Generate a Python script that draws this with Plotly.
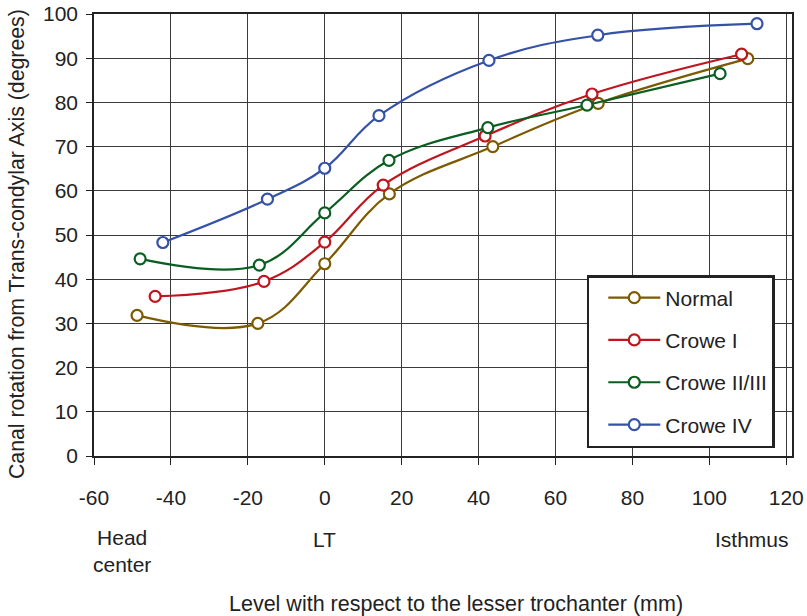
import plotly.graph_objects as go

# ---- data ----
normal_x = [-48.8, -17.4, 0, 16.8, 43.7, 71.1, 110.0]
normal_y = [31.8, 30.0, 43.5, 59.3, 70.0, 79.8, 89.9]

crowe1_x = [-44.1, -15.8, 0, 15.2, 41.7, 69.5, 108.4]
crowe1_y = [36.1, 39.5, 48.4, 61.3, 72.4, 81.9, 90.9]

crowe23_x = [-48.0, -17.0, 0, 16.7, 42.4, 68.2, 102.8]
crowe23_y = [44.6, 43.2, 55.0, 66.9, 74.3, 79.4, 86.5]

crowe4_x = [-42.1, -14.9, 0, 14.1, 42.7, 71.0, 112.4]
crowe4_y = [48.3, 58.1, 65.1, 77.0, 89.5, 95.2, 97.8]

series_names = ["Normal", "Crowe I", "Crowe II/III", "Crowe IV"]
series_colors = ["#7D5A00", "#C0141E", "#0B5E22", "#3452A8"]

x_ticks = [-60, -40, -20, 0, 20, 40, 60, 80, 100, 120]
x_tick_text = ["-60", "-40", "-20", "0", "20", "40", "60", "80", "100", "120"]
y_ticks = [0, 10, 20, 30, 40, 50, 60, 70, 80, 90, 100]

landmark_labels = ["Head<br>center", "LT", "Isthmus"]
landmark_x = [-52.7, 0, 111]

FONT = "Liberation Sans, Arial, Helvetica, sans-serif"
GRID = "#3a3a3a"
TXT = "#222"

fig = go.Figure()
for name, color, xs, ys in zip(
    series_names, series_colors,
    [normal_x, crowe1_x, crowe23_x, crowe4_x],
    [normal_y, crowe1_y, crowe23_y, crowe4_y],
):
    fig.add_trace(go.Scatter(
        x=xs, y=ys, name=name, mode="lines+markers",
        legendgroup=name,
        line=dict(color=color, width=2.2, shape="spline", smoothing=1.1),
        marker=dict(symbol="circle", size=11, color="white",
                    line=dict(color=color, width=2.2)),
    ))

for lab, lx in zip(landmark_labels, landmark_x):
    fig.add_annotation(
        x=lx, xref="x", y=(-0.215 if "center" in lab else -0.19), yref="paper",
        text=lab, showarrow=False, xanchor="center", yanchor="middle",
        font=dict(family=FONT, size=21, color=TXT),
    )

fig.add_annotation(
    x=0.5186, xref="paper", y=-0.335, yref="paper",
    text="Level with respect to the lesser trochanter (mm)",
    showarrow=False, xanchor="center", yanchor="middle",
    font=dict(family=FONT, size=21.5, color=TXT),
)

fig.add_annotation(
    x=-0.110, xref="paper", y=0.48, yref="paper",
    text="Canal rotation from Trans-condylar Axis (degrees)",
    textangle=-90, showarrow=False, xanchor="center", yanchor="middle",
    font=dict(family=FONT, size=21.3, color=TXT),
)

fig.update_layout(
    width=807, height=616,
    margin=dict(l=94, r=15, t=14, b=160, autoexpand=False),
    paper_bgcolor="white", plot_bgcolor="white",
    font=dict(family=FONT, size=21, color=TXT),
    showlegend=True,
    legend=dict(
        x=0.706, y=0.4095, xanchor="left", yanchor="top",
        bgcolor="white", bordercolor="#222", borderwidth=2.5,
        font=dict(family=FONT, size=21, color=TXT),
        traceorder="grouped", tracegroupgap=12,
        indentation=14, itemwidth=52,
    ),
)

fig.update_xaxes(
    range=[-60, 121.5], tickmode="array", tickvals=x_ticks, ticktext=x_tick_text,
    showgrid=True, gridcolor=GRID, gridwidth=1.2,
    showline=True, linecolor="#222", linewidth=1.5, mirror=True,
    ticks="outside", ticklen=7, tickcolor="#222", tickwidth=1.2,
    ticklabelstandoff=15, zeroline=False, automargin=False,
    tickfont=dict(family=FONT, size=21, color=TXT),
)
fig.update_yaxes(
    range=[0, 100], tickmode="array", tickvals=y_ticks,
    showgrid=True, gridcolor=GRID, gridwidth=1.2,
    showline=True, linecolor="#222", linewidth=1.5, mirror=True,
    ticks="outside", ticklen=6, tickcolor="#222", tickwidth=1.2,
    ticklabelstandoff=4, zeroline=False, automargin=False,
    tickfont=dict(family=FONT, size=21, color=TXT),
)

fig.write_html(
    "out.html",
    config={"displayModeBar": False},
    post_script="document.body.style.margin='0';document.body.style.padding='0';",
)
